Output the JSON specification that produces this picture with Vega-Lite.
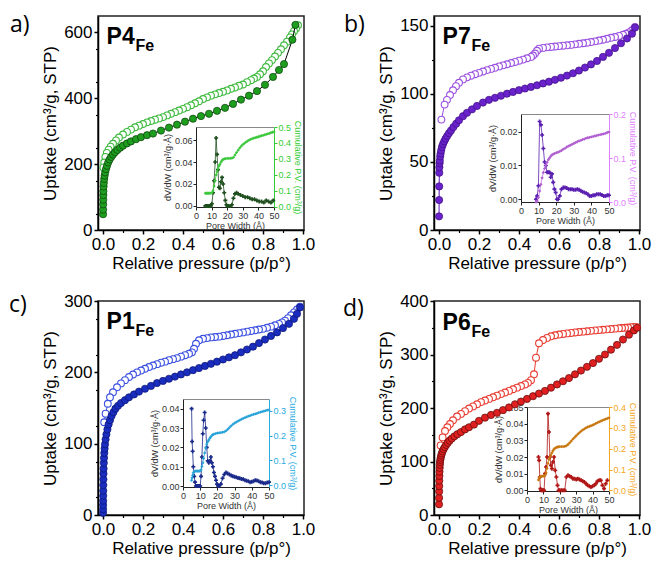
{
"$schema":"https://vega.github.io/schema/vega-lite/v6.json",
"padding":{"left":8,"top":13,"right":5,"bottom":5},
"background":"white",
"config":{"view":{"stroke":"#222","strokeWidth":1.5},"axis":{"grid":false,"domainColor":"#000","tickColor":"#000","labelColor":"#000","titleColor":"#000","labelFont":"Liberation Sans","titleFont":"Liberation Sans","titleFontWeight":"normal","labelFlush":false},"text":{"font":"Liberation Sans"}},
"datasets":{
"a_ads":[{"p":0.0003,"v":48},{"p":0.0006,"v":62},{"p":0.0009,"v":78},{"p":0.0012,"v":92},{"p":0.0016,"v":106},{"p":0.002,"v":118},{"p":0.003,"v":132},{"p":0.004,"v":143},{"p":0.006,"v":155},{"p":0.008,"v":165},{"p":0.011,"v":175},{"p":0.015,"v":185},{"p":0.02,"v":195},{"p":0.026,"v":205},{"p":0.033,"v":214},{"p":0.041,"v":222},{"p":0.05,"v":229},{"p":0.06,"v":236},{"p":0.072,"v":243},{"p":0.086,"v":250},{"p":0.1,"v":256},{"p":0.12,"v":263},{"p":0.14,"v":269},{"p":0.165,"v":276},{"p":0.19,"v":282},{"p":0.22,"v":288},{"p":0.25,"v":293},{"p":0.29,"v":302},{"p":0.33,"v":311},{"p":0.37,"v":320},{"p":0.41,"v":329},{"p":0.45,"v":338},{"p":0.49,"v":346},{"p":0.53,"v":353},{"p":0.57,"v":362},{"p":0.61,"v":371},{"p":0.65,"v":383},{"p":0.69,"v":396},{"p":0.73,"v":408},{"p":0.77,"v":422},{"p":0.81,"v":441},{"p":0.85,"v":465},{"p":0.88,"v":486},{"p":0.905,"v":504},{"p":0.947,"v":578},{"p":0.962,"v":623}],
"a_des":[{"p":0.975,"v":622},{"p":0.965,"v":612},{"p":0.955,"v":604},{"p":0.945,"v":594},{"p":0.935,"v":585},{"p":0.92,"v":572},{"p":0.905,"v":561},{"p":0.89,"v":549},{"p":0.875,"v":538},{"p":0.86,"v":527},{"p":0.845,"v":516},{"p":0.83,"v":506},{"p":0.815,"v":495},{"p":0.8,"v":482},{"p":0.785,"v":473},{"p":0.77,"v":465},{"p":0.755,"v":460},{"p":0.74,"v":455},{"p":0.72,"v":449},{"p":0.7,"v":442},{"p":0.68,"v":438},{"p":0.66,"v":433},{"p":0.64,"v":429},{"p":0.62,"v":424},{"p":0.6,"v":420},{"p":0.58,"v":416},{"p":0.56,"v":412},{"p":0.54,"v":408},{"p":0.52,"v":403},{"p":0.5,"v":398},{"p":0.48,"v":391},{"p":0.46,"v":385},{"p":0.44,"v":379},{"p":0.42,"v":373},{"p":0.4,"v":368},{"p":0.38,"v":363},{"p":0.36,"v":358},{"p":0.34,"v":353},{"p":0.32,"v":348},{"p":0.3,"v":343},{"p":0.28,"v":339},{"p":0.26,"v":335},{"p":0.24,"v":331},{"p":0.22,"v":327},{"p":0.2,"v":322},{"p":0.18,"v":317},{"p":0.16,"v":312},{"p":0.14,"v":305},{"p":0.12,"v":298},{"p":0.1,"v":290},{"p":0.08,"v":281},{"p":0.065,"v":272},{"p":0.05,"v":262},{"p":0.038,"v":253},{"p":0.028,"v":244},{"p":0.019,"v":234},{"p":0.012,"v":222},{"p":0.006,"v":205},{"p":0.002,"v":190}],
"a_psd":[{"w":6,"d":0},{"w":6.7,"d":0},{"w":7.4,"d":0},{"w":8.1,"d":0},{"w":8.8,"d":0},{"w":9.5,"d":0},{"w":10.2,"d":0.002},{"w":10.9,"d":0.012},{"w":11.6,"d":0.023},{"w":12.3,"d":0.04},{"w":12.9,"d":0.062},{"w":13.5,"d":0.047},{"w":14.1,"d":0.033},{"w":14.7,"d":0.017},{"w":15.3,"d":0.016},{"w":16,"d":0.022},{"w":16.7,"d":0.026},{"w":17.4,"d":0.02},{"w":18.1,"d":0.012},{"w":18.8,"d":0.005},{"w":19.5,"d":0.001},{"w":20.2,"d":0},{"w":21,"d":0},{"w":22,"d":0},{"w":23,"d":0.001},{"w":24,"d":0.007},{"w":25,"d":0.011},{"w":26,"d":0.012},{"w":27,"d":0.011},{"w":28.5,"d":0.01},{"w":30,"d":0.009},{"w":31.5,"d":0.008},{"w":33,"d":0.008},{"w":34.5,"d":0.007},{"w":36,"d":0.006},{"w":37.5,"d":0.006},{"w":39,"d":0.005},{"w":40.5,"d":0.004},{"w":42,"d":0.004},{"w":43.5,"d":0.003},{"w":45,"d":0.005},{"w":46.5,"d":0.004},{"w":48,"d":0.003},{"w":49.5,"d":0.005}],
"a_cum":[{"w":6,"c":0.085},{"w":6.7,"c":0.085},{"w":7.4,"c":0.085},{"w":8.1,"c":0.085},{"w":8.8,"c":0.085},{"w":9.5,"c":0.086},{"w":10.2,"c":0.088},{"w":10.9,"c":0.1},{"w":11.6,"c":0.13},{"w":12.3,"c":0.165},{"w":12.9,"c":0.2},{"w":13.5,"c":0.22},{"w":14.1,"c":0.24},{"w":14.7,"c":0.255},{"w":15.3,"c":0.265},{"w":16,"c":0.28},{"w":16.7,"c":0.29},{"w":17.4,"c":0.297},{"w":18.1,"c":0.3},{"w":19,"c":0.302},{"w":20,"c":0.303},{"w":21,"c":0.303},{"w":22,"c":0.304},{"w":23,"c":0.305},{"w":24,"c":0.31},{"w":25,"c":0.325},{"w":26,"c":0.34},{"w":27,"c":0.355},{"w":28,"c":0.368},{"w":29,"c":0.38},{"w":30,"c":0.39},{"w":31,"c":0.398},{"w":32,"c":0.405},{"w":33,"c":0.412},{"w":34,"c":0.418},{"w":35,"c":0.423},{"w":36,"c":0.427},{"w":37,"c":0.43},{"w":38,"c":0.433},{"w":39,"c":0.436},{"w":40,"c":0.439},{"w":41,"c":0.442},{"w":42,"c":0.445},{"w":43,"c":0.448},{"w":44,"c":0.451},{"w":45,"c":0.454},{"w":46,"c":0.457},{"w":47,"c":0.46},{"w":48,"c":0.464},{"w":49,"c":0.467},{"w":50,"c":0.47}],
"b_ads":[{"p":0.0003,"v":10},{"p":0.0006,"v":22},{"p":0.001,"v":32},{"p":0.0015,"v":42},{"p":0.002,"v":46},{"p":0.003,"v":49},{"p":0.004,"v":51},{"p":0.006,"v":54},{"p":0.008,"v":56},{"p":0.011,"v":58.5},{"p":0.015,"v":61},{"p":0.02,"v":63},{"p":0.026,"v":65},{"p":0.033,"v":67},{"p":0.041,"v":69},{"p":0.05,"v":71},{"p":0.06,"v":73},{"p":0.072,"v":75.5},{"p":0.086,"v":78},{"p":0.1,"v":80.5},{"p":0.12,"v":83.5},{"p":0.14,"v":86},{"p":0.165,"v":88.5},{"p":0.19,"v":91},{"p":0.22,"v":93.5},{"p":0.25,"v":95.5},{"p":0.28,"v":97},{"p":0.31,"v":98.5},{"p":0.34,"v":100},{"p":0.37,"v":101.3},{"p":0.4,"v":102.6},{"p":0.43,"v":103.8},{"p":0.46,"v":105},{"p":0.49,"v":106.2},{"p":0.52,"v":107.5},{"p":0.55,"v":108.8},{"p":0.58,"v":110.2},{"p":0.61,"v":111.7},{"p":0.64,"v":113.3},{"p":0.67,"v":115},{"p":0.7,"v":117},{"p":0.73,"v":119.2},{"p":0.76,"v":121.5},{"p":0.79,"v":124},{"p":0.82,"v":127},{"p":0.85,"v":130},{"p":0.88,"v":133.5},{"p":0.91,"v":137},{"p":0.94,"v":140.5},{"p":0.965,"v":144},{"p":0.98,"v":148.5}],
"b_des":[{"p":0.98,"v":149},{"p":0.965,"v":146.5},{"p":0.95,"v":145},{"p":0.935,"v":144},{"p":0.92,"v":143.2},{"p":0.9,"v":142.4},{"p":0.88,"v":141.6},{"p":0.86,"v":141},{"p":0.84,"v":140.3},{"p":0.82,"v":139.6},{"p":0.8,"v":139},{"p":0.78,"v":138.4},{"p":0.76,"v":137.9},{"p":0.74,"v":137.4},{"p":0.72,"v":137},{"p":0.7,"v":136.6},{"p":0.68,"v":136.2},{"p":0.66,"v":135.8},{"p":0.64,"v":135.5},{"p":0.62,"v":135.2},{"p":0.6,"v":134.9},{"p":0.58,"v":134.6},{"p":0.56,"v":134.3},{"p":0.54,"v":134},{"p":0.52,"v":133.6},{"p":0.5,"v":133},{"p":0.49,"v":131.5},{"p":0.48,"v":129.5},{"p":0.47,"v":128},{"p":0.46,"v":127},{"p":0.44,"v":126},{"p":0.42,"v":125},{"p":0.4,"v":124.2},{"p":0.38,"v":123.3},{"p":0.36,"v":122.5},{"p":0.34,"v":121.6},{"p":0.32,"v":120.8},{"p":0.3,"v":120},{"p":0.28,"v":119},{"p":0.26,"v":118.2},{"p":0.24,"v":117.3},{"p":0.22,"v":116.3},{"p":0.2,"v":115.3},{"p":0.18,"v":114.3},{"p":0.16,"v":113.2},{"p":0.14,"v":112},{"p":0.12,"v":110.5},{"p":0.1,"v":108},{"p":0.085,"v":105.5},{"p":0.07,"v":102.5},{"p":0.055,"v":99},{"p":0.04,"v":95.5},{"p":0.028,"v":92},{"p":0.012,"v":81}],
"b_psd":[{"w":8.5,"d":0},{"w":9.2,"d":0.001},{"w":9.9,"d":0.004},{"w":10.6,"d":0.023},{"w":11.3,"d":0.022},{"w":12,"d":0.019},{"w":12.7,"d":0.015},{"w":13.4,"d":0.011},{"w":14.1,"d":0.01},{"w":14.8,"d":0.008},{"w":15.5,"d":0.008},{"w":16.2,"d":0.008},{"w":16.9,"d":0.0065},{"w":17.6,"d":0.0075},{"w":18.3,"d":0.005},{"w":19,"d":0.003},{"w":19.7,"d":0.002},{"w":20.4,"d":0},{"w":21.1,"d":0},{"w":22,"d":0.001},{"w":23,"d":0.003},{"w":24,"d":0.0035},{"w":25,"d":0.0035},{"w":26,"d":0.0033},{"w":27,"d":0.003},{"w":28,"d":0.003},{"w":29,"d":0.003},{"w":30,"d":0.0028},{"w":31,"d":0.0028},{"w":32,"d":0.003},{"w":33,"d":0.0028},{"w":34,"d":0.0025},{"w":35,"d":0.0022},{"w":36,"d":0.002},{"w":37,"d":0.0018},{"w":38,"d":0.0015},{"w":39,"d":0.001},{"w":40,"d":0.001},{"w":41,"d":0.0012},{"w":42,"d":0.0012},{"w":43,"d":0.0015},{"w":44,"d":0.0015},{"w":45,"d":0.0015},{"w":46,"d":0.0013},{"w":47,"d":0.001},{"w":48,"d":0.001},{"w":49,"d":0.0012},{"w":50,"d":0.0012}],
"b_cum":[{"w":8.5,"c":0},{"w":9.2,"c":0.002},{"w":9.9,"c":0.01},{"w":10.6,"c":0.025},{"w":11.3,"c":0.04},{"w":12,"c":0.055},{"w":12.7,"c":0.067},{"w":13.4,"c":0.076},{"w":14.1,"c":0.084},{"w":14.8,"c":0.09},{"w":15.5,"c":0.096},{"w":16.2,"c":0.1},{"w":16.9,"c":0.104},{"w":17.6,"c":0.107},{"w":18.3,"c":0.109},{"w":19,"c":0.11},{"w":20,"c":0.112},{"w":21,"c":0.113},{"w":22,"c":0.115},{"w":23,"c":0.117},{"w":24,"c":0.12},{"w":25,"c":0.122},{"w":26,"c":0.125},{"w":27,"c":0.127},{"w":28,"c":0.129},{"w":29,"c":0.131},{"w":30,"c":0.133},{"w":31,"c":0.135},{"w":32,"c":0.137},{"w":33,"c":0.139},{"w":34,"c":0.14},{"w":35,"c":0.142},{"w":36,"c":0.143},{"w":37,"c":0.145},{"w":38,"c":0.146},{"w":39,"c":0.147},{"w":40,"c":0.148},{"w":41,"c":0.149},{"w":42,"c":0.15},{"w":43,"c":0.151},{"w":44,"c":0.152},{"w":45,"c":0.153},{"w":46,"c":0.154},{"w":47,"c":0.155},{"w":48,"c":0.156},{"w":49,"c":0.158},{"w":50,"c":0.159}],
"c_ads":[{"p":0.0002,"v":3},{"p":0.0004,"v":8},{"p":0.0006,"v":14},{"p":0.0008,"v":20},{"p":0.001,"v":27},{"p":0.0013,"v":34},{"p":0.0016,"v":42},{"p":0.002,"v":50},{"p":0.0025,"v":58},{"p":0.003,"v":65},{"p":0.004,"v":73},{"p":0.005,"v":80},{"p":0.0065,"v":87},{"p":0.008,"v":93},{"p":0.01,"v":99},{"p":0.013,"v":106},{"p":0.017,"v":113},{"p":0.022,"v":120},{"p":0.028,"v":127},{"p":0.035,"v":133},{"p":0.043,"v":139},{"p":0.052,"v":144},{"p":0.062,"v":149},{"p":0.075,"v":153},{"p":0.09,"v":157},{"p":0.11,"v":161},{"p":0.13,"v":165},{"p":0.155,"v":169},{"p":0.18,"v":173},{"p":0.21,"v":177},{"p":0.24,"v":181},{"p":0.27,"v":185},{"p":0.3,"v":188},{"p":0.33,"v":191},{"p":0.36,"v":194},{"p":0.39,"v":197},{"p":0.42,"v":200},{"p":0.45,"v":203},{"p":0.48,"v":206},{"p":0.51,"v":209},{"p":0.54,"v":212},{"p":0.57,"v":215},{"p":0.6,"v":218},{"p":0.63,"v":221},{"p":0.66,"v":224},{"p":0.69,"v":228},{"p":0.72,"v":232},{"p":0.75,"v":236},{"p":0.78,"v":241},{"p":0.81,"v":246},{"p":0.84,"v":251},{"p":0.87,"v":256},{"p":0.9,"v":262},{"p":0.93,"v":268},{"p":0.955,"v":275},{"p":0.97,"v":282},{"p":0.985,"v":291}],
"c_des":[{"p":0.985,"v":292},{"p":0.97,"v":288},{"p":0.955,"v":284},{"p":0.94,"v":280},{"p":0.925,"v":276},{"p":0.91,"v":272.5},{"p":0.895,"v":270},{"p":0.88,"v":268},{"p":0.86,"v":266},{"p":0.84,"v":264},{"p":0.82,"v":262.5},{"p":0.8,"v":261},{"p":0.78,"v":260},{"p":0.76,"v":259},{"p":0.74,"v":258},{"p":0.72,"v":257},{"p":0.7,"v":256},{"p":0.68,"v":255},{"p":0.66,"v":254},{"p":0.64,"v":253},{"p":0.62,"v":252},{"p":0.6,"v":251},{"p":0.58,"v":250},{"p":0.56,"v":249.5},{"p":0.54,"v":249},{"p":0.52,"v":248},{"p":0.5,"v":247},{"p":0.48,"v":245},{"p":0.465,"v":240},{"p":0.455,"v":233},{"p":0.445,"v":228},{"p":0.43,"v":226},{"p":0.41,"v":224},{"p":0.39,"v":222},{"p":0.37,"v":220},{"p":0.35,"v":218.5},{"p":0.33,"v":217},{"p":0.31,"v":215},{"p":0.29,"v":213.5},{"p":0.27,"v":211.5},{"p":0.25,"v":209.5},{"p":0.23,"v":207.5},{"p":0.21,"v":205},{"p":0.19,"v":202.5},{"p":0.17,"v":200},{"p":0.15,"v":197},{"p":0.13,"v":193.5},{"p":0.11,"v":189},{"p":0.09,"v":184.5},{"p":0.07,"v":179},{"p":0.05,"v":172},{"p":0.035,"v":165},{"p":0.024,"v":156},{"p":0.013,"v":142},{"p":0.006,"v":130}],
"c_psd":[{"w":5,"d":0.04},{"w":5.3,"d":0.023},{"w":5.6,"d":0.018},{"w":6,"d":0.01},{"w":6.5,"d":0.005},{"w":7,"d":0.002},{"w":7.5,"d":0},{"w":8,"d":0},{"w":8.5,"d":0},{"w":9,"d":0},{"w":9.5,"d":0},{"w":10,"d":0},{"w":10.5,"d":0.005},{"w":11,"d":0.015},{"w":11.5,"d":0.027},{"w":12,"d":0.034},{"w":12.6,"d":0.038},{"w":13.2,"d":0.03},{"w":13.8,"d":0.02},{"w":14.4,"d":0.013},{"w":15,"d":0.012},{"w":15.6,"d":0.013},{"w":16.2,"d":0.015},{"w":16.8,"d":0.012},{"w":17.4,"d":0.01},{"w":18,"d":0.007},{"w":18.6,"d":0.005},{"w":19.2,"d":0.003},{"w":19.8,"d":0.001},{"w":20.4,"d":0},{"w":21,"d":0},{"w":22,"d":0.001},{"w":23,"d":0.004},{"w":24,"d":0.006},{"w":25,"d":0.007},{"w":26,"d":0.0065},{"w":27,"d":0.006},{"w":28,"d":0.0055},{"w":29,"d":0.005},{"w":30,"d":0.0048},{"w":31,"d":0.0045},{"w":32,"d":0.0042},{"w":33,"d":0.004},{"w":34,"d":0.0037},{"w":35,"d":0.0035},{"w":36,"d":0.003},{"w":37,"d":0.0027},{"w":38,"d":0.0025},{"w":39,"d":0.002},{"w":40,"d":0.0022},{"w":41,"d":0.0025},{"w":42,"d":0.003},{"w":43,"d":0.0028},{"w":44,"d":0.0025},{"w":45,"d":0.002},{"w":46,"d":0.0018},{"w":47,"d":0.0015},{"w":48,"d":0.0015},{"w":49,"d":0.0018},{"w":50,"d":0.002}],
"c_cum":[{"w":5,"c":0.02},{"w":5.3,"c":0.03},{"w":5.6,"c":0.04},{"w":6,"c":0.05},{"w":6.5,"c":0.055},{"w":7,"c":0.057},{"w":7.5,"c":0.057},{"w":8,"c":0.057},{"w":8.5,"c":0.057},{"w":9,"c":0.057},{"w":9.5,"c":0.057},{"w":10,"c":0.058},{"w":10.5,"c":0.062},{"w":11,"c":0.075},{"w":11.5,"c":0.09},{"w":12,"c":0.108},{"w":12.6,"c":0.13},{"w":13.2,"c":0.15},{"w":13.8,"c":0.165},{"w":14.4,"c":0.175},{"w":15,"c":0.182},{"w":15.6,"c":0.189},{"w":16.2,"c":0.195},{"w":16.8,"c":0.2},{"w":17.4,"c":0.204},{"w":18,"c":0.206},{"w":19,"c":0.208},{"w":20,"c":0.21},{"w":21,"c":0.211},{"w":22,"c":0.212},{"w":23,"c":0.213},{"w":24,"c":0.215},{"w":25,"c":0.219},{"w":26,"c":0.225},{"w":27,"c":0.232},{"w":28,"c":0.239},{"w":29,"c":0.245},{"w":30,"c":0.25},{"w":31,"c":0.254},{"w":32,"c":0.258},{"w":33,"c":0.262},{"w":34,"c":0.266},{"w":35,"c":0.269},{"w":36,"c":0.272},{"w":37,"c":0.275},{"w":38,"c":0.278},{"w":39,"c":0.28},{"w":40,"c":0.283},{"w":41,"c":0.285},{"w":42,"c":0.287},{"w":43,"c":0.289},{"w":44,"c":0.292},{"w":45,"c":0.294},{"w":46,"c":0.296},{"w":47,"c":0.298},{"w":48,"c":0.3},{"w":49,"c":0.302},{"w":50,"c":0.303}],
"d_ads":[{"p":0.0002,"v":20},{"p":0.0005,"v":32},{"p":0.0008,"v":44},{"p":0.0011,"v":54},{"p":0.0015,"v":64},{"p":0.002,"v":73},{"p":0.0026,"v":81},{"p":0.0033,"v":88},{"p":0.0042,"v":94},{"p":0.0053,"v":99},{"p":0.0067,"v":103},{"p":0.0085,"v":107},{"p":0.011,"v":111},{"p":0.014,"v":115},{"p":0.018,"v":119},{"p":0.023,"v":123},{"p":0.029,"v":127},{"p":0.036,"v":131},{"p":0.044,"v":135},{"p":0.053,"v":139},{"p":0.064,"v":143},{"p":0.077,"v":147},{"p":0.092,"v":151},{"p":0.11,"v":155},{"p":0.13,"v":160},{"p":0.15,"v":164},{"p":0.175,"v":169},{"p":0.2,"v":176},{"p":0.23,"v":182},{"p":0.26,"v":187},{"p":0.29,"v":191},{"p":0.32,"v":196},{"p":0.35,"v":201},{"p":0.38,"v":207},{"p":0.41,"v":212},{"p":0.44,"v":217},{"p":0.47,"v":222},{"p":0.5,"v":227},{"p":0.53,"v":232},{"p":0.56,"v":238},{"p":0.59,"v":244},{"p":0.62,"v":250},{"p":0.65,"v":256},{"p":0.68,"v":263},{"p":0.71,"v":270},{"p":0.74,"v":277},{"p":0.77,"v":284},{"p":0.8,"v":292},{"p":0.83,"v":300},{"p":0.86,"v":309},{"p":0.89,"v":318},{"p":0.92,"v":328},{"p":0.95,"v":337},{"p":0.975,"v":345},{"p":0.99,"v":350}],
"d_des":[{"p":0.99,"v":351},{"p":0.975,"v":351.5},{"p":0.96,"v":351},{"p":0.945,"v":350.5},{"p":0.93,"v":350},{"p":0.915,"v":349.5},{"p":0.9,"v":349},{"p":0.88,"v":348.3},{"p":0.86,"v":347.6},{"p":0.84,"v":347},{"p":0.82,"v":346.3},{"p":0.8,"v":345.6},{"p":0.78,"v":345},{"p":0.76,"v":344.2},{"p":0.74,"v":343.5},{"p":0.72,"v":342.7},{"p":0.7,"v":342},{"p":0.68,"v":341.2},{"p":0.66,"v":340.3},{"p":0.64,"v":339.4},{"p":0.62,"v":338.4},{"p":0.6,"v":337.3},{"p":0.58,"v":336},{"p":0.56,"v":334},{"p":0.54,"v":331},{"p":0.52,"v":327},{"p":0.5,"v":321},{"p":0.485,"v":294},{"p":0.475,"v":263},{"p":0.46,"v":252},{"p":0.445,"v":247},{"p":0.43,"v":244},{"p":0.41,"v":241},{"p":0.39,"v":238},{"p":0.37,"v":235},{"p":0.35,"v":232},{"p":0.33,"v":229},{"p":0.31,"v":226},{"p":0.29,"v":223},{"p":0.27,"v":220},{"p":0.25,"v":217},{"p":0.23,"v":214},{"p":0.21,"v":211},{"p":0.19,"v":207},{"p":0.17,"v":203},{"p":0.15,"v":199},{"p":0.13,"v":194},{"p":0.11,"v":189},{"p":0.09,"v":184},{"p":0.07,"v":177},{"p":0.055,"v":170},{"p":0.042,"v":164},{"p":0.03,"v":157},{"p":0.018,"v":145},{"p":0.008,"v":130}],
"d_psd":[{"w":7,"d":0.02},{"w":7.4,"d":0.018},{"w":7.8,"d":0.008},{"w":8.2,"d":0.001},{"w":8.6,"d":0},{"w":9.2,"d":0},{"w":9.8,"d":0},{"w":10.4,"d":0},{"w":11,"d":0.01},{"w":11.6,"d":0.014},{"w":12.2,"d":0.02},{"w":12.8,"d":0.046},{"w":13.4,"d":0.035},{"w":14,"d":0.02},{"w":14.6,"d":0.015},{"w":15.2,"d":0.013},{"w":15.8,"d":0.017},{"w":16.5,"d":0.02},{"w":17.2,"d":0.012},{"w":17.9,"d":0.008},{"w":18.6,"d":0.003},{"w":19.3,"d":0},{"w":20,"d":0},{"w":21,"d":0},{"w":22,"d":0},{"w":23,"d":0},{"w":24,"d":0.008},{"w":25,"d":0.009},{"w":26,"d":0.0085},{"w":27,"d":0.008},{"w":28,"d":0.007},{"w":29,"d":0.007},{"w":30,"d":0.0065},{"w":31,"d":0.007},{"w":32,"d":0.0065},{"w":33,"d":0.006},{"w":34,"d":0.0055},{"w":35,"d":0.005},{"w":36,"d":0.004},{"w":37,"d":0.003},{"w":38,"d":0.0025},{"w":39,"d":0.002},{"w":40,"d":0.0025},{"w":41,"d":0.003},{"w":42,"d":0.004},{"w":43,"d":0.0055},{"w":44,"d":0.006},{"w":45,"d":0.006},{"w":46,"d":0.003},{"w":47,"d":0.001},{"w":48,"d":0.004},{"w":49,"d":0.006}],
"d_cum":[{"w":7,"c":0.05},{"w":7.4,"c":0.058},{"w":7.8,"c":0.064},{"w":8.2,"c":0.066},{"w":8.6,"c":0.067},{"w":9.2,"c":0.068},{"w":9.8,"c":0.068},{"w":10.4,"c":0.069},{"w":11,"c":0.073},{"w":11.6,"c":0.085},{"w":12.2,"c":0.105},{"w":12.8,"c":0.13},{"w":13.4,"c":0.148},{"w":14,"c":0.16},{"w":14.6,"c":0.17},{"w":15.2,"c":0.18},{"w":15.8,"c":0.19},{"w":16.5,"c":0.198},{"w":17.2,"c":0.203},{"w":17.9,"c":0.206},{"w":18.6,"c":0.208},{"w":19.3,"c":0.209},{"w":20,"c":0.21},{"w":21,"c":0.21},{"w":22,"c":0.21},{"w":23,"c":0.211},{"w":24,"c":0.214},{"w":25,"c":0.22},{"w":26,"c":0.228},{"w":27,"c":0.237},{"w":28,"c":0.246},{"w":29,"c":0.254},{"w":30,"c":0.262},{"w":31,"c":0.27},{"w":32,"c":0.277},{"w":33,"c":0.284},{"w":34,"c":0.29},{"w":35,"c":0.295},{"w":36,"c":0.3},{"w":37,"c":0.304},{"w":38,"c":0.307},{"w":39,"c":0.31},{"w":40,"c":0.313},{"w":41,"c":0.317},{"w":42,"c":0.321},{"w":43,"c":0.325},{"w":44,"c":0.329},{"w":45,"c":0.332},{"w":46,"c":0.336},{"w":47,"c":0.339},{"w":48,"c":0.342},{"w":49,"c":0.345},{"w":50,"c":0.348}]
},
"columns":2,
"bounds":"flush",
"spacing":{"column":130,"row":71},
"concat":[
{"width":206,"height":214,"resolve":{"scale":{"x":"independent","y":"independent"}},
 "layer":[
  {"layer":[
   {"data":{"name":"a_des"},"mark":{"type":"line","color":"#3cb93c","strokeWidth":1},"encoding":{"x":{"field":"p","type":"quantitative","scale":{"domain":[-0.025,1.005],"nice":false,"zero":false},"axis":{"title":"Relative pressure (p/p°)","values":[0,0.2,0.4,0.6,0.8,1],"format":".1f","labelFontSize":17,"titleFontSize":17,"tickSize":4,"labelPadding":2,"titlePadding":3,"domainWidth":1.5,"tickWidth":1.5}},"y":{"field":"v","type":"quantitative","scale":{"domain":[0,650],"nice":false,"zero":false},"axis":{"title":"Uptake (cm³/g, STP)","values":[0,100,200,300,400,500,600],"labelFontSize":17,"titleFontSize":17,"tickSize":4,"labelPadding":2,"titlePadding":4,"domainWidth":1.5,"tickWidth":1.5}}}},
   {"data":{"name":"a_des"},"mark":{"type":"point","shape":"circle","filled":true,"fill":"#ffffff","stroke":"#3cb93c","strokeWidth":1.1,"size":46,"opacity":1},"encoding":{"x":{"field":"p","type":"quantitative","scale":{"domain":[-0.025,1.005],"nice":false,"zero":false}},"y":{"field":"v","type":"quantitative","scale":{"domain":[0,650],"nice":false,"zero":false}}}},
   {"data":{"name":"a_ads"},"mark":{"type":"line","color":"#000000","strokeWidth":1},"encoding":{"x":{"field":"p","type":"quantitative","scale":{"domain":[-0.025,1.005],"nice":false,"zero":false}},"y":{"field":"v","type":"quantitative","scale":{"domain":[0,650],"nice":false,"zero":false}}}},
   {"data":{"name":"a_ads"},"mark":{"type":"point","shape":"circle","filled":true,"fill":"#1e9e1e","stroke":"#0b3d0b","strokeWidth":0.7,"size":52,"opacity":1},"encoding":{"x":{"field":"p","type":"quantitative","scale":{"domain":[-0.025,1.005],"nice":false,"zero":false}},"y":{"field":"v","type":"quantitative","scale":{"domain":[0,650],"nice":false,"zero":false}}}},
   {"data":{"values":[{}]},"mark":{"type":"text","text":"P4","fontWeight":"bold","fontSize":23,"align":"left","baseline":"alphabetic","color":"#000"},"encoding":{"x":{"datum":0.018,"type":"quantitative","scale":{"domain":[-0.025,1.005],"nice":false,"zero":false}},"y":{"datum":565,"type":"quantitative","scale":{"domain":[0,650],"nice":false,"zero":false}}}},
   {"data":{"values":[{}]},"mark":{"type":"text","text":"Fe","fontWeight":"bold","fontSize":16,"align":"left","baseline":"alphabetic","dx":29,"dy":7,"color":"#000"},"encoding":{"x":{"datum":0.018,"type":"quantitative","scale":{"domain":[-0.025,1.005],"nice":false,"zero":false}},"y":{"datum":565,"type":"quantitative","scale":{"domain":[0,650],"nice":false,"zero":false}}}},
   {"data":{"values":[{}]},"mark":{"type":"text","text":"a)","font":"Open Sans","fontSize":23,"align":"left","baseline":"alphabetic","color":"#000"},"encoding":{"x":{"datum":-0.465,"type":"quantitative","scale":{"domain":[-0.025,1.005],"nice":false,"zero":false}},"y":{"datum":601,"type":"quantitative","scale":{"domain":[0,650],"nice":false,"zero":false}}}}
  ]},
  {"data":{"values":[{}]},"mark":{"type":"point","opacity":0},"encoding":{"x":{"datum":0.5,"type":"quantitative","scale":{"domain":[-0.025,1.005],"nice":false,"zero":false},"axis":{"orient":"bottom","values":[0.1,0.3,0.5,0.7,0.9],"labels":false,"domain":false,"title":null,"tickSize":2.5,"tickWidth":1.2}},"y":{"datum":300,"type":"quantitative","scale":{"domain":[0,650],"nice":false,"zero":false},"axis":{"orient":"left","values":[50,150,250,350,450,550],"labels":false,"domain":false,"title":null,"tickSize":2.5,"tickWidth":1.2}}}},
  {"layer":[
   {"data":{"name":"a_psd"},"mark":{"type":"line","color":"#1f4f1f","strokeWidth":0.8},"encoding":{"x":{"field":"w","type":"quantitative","scale":{"domain":[0,50],"range":[98,176],"nice":false,"zero":false},"axis":{"orient":"bottom","offset":-23,"title":"Pore Width (Å)","values":[0,10,20,30,40,50],"labelFontSize":9,"titleFontSize":9,"tickSize":3,"labelPadding":1,"titlePadding":1,"domainWidth":1,"tickWidth":1,"labelColor":"#333","titleColor":"#333","domainColor":"#222","tickColor":"#222"}},"y":{"field":"d","type":"quantitative","scale":{"domain":[-0.001,0.072],"range":[191,111],"nice":false,"zero":false},"axis":{"orient":"left","offset":-98,"title":"dV/dW (cm³/g·Å)","values":[0,0.02,0.04,0.06],"format":".2f","labelFontSize":9,"titleFontSize":9,"tickSize":3,"labelPadding":1,"titlePadding":2,"domainWidth":1,"tickWidth":1,"labelColor":"#333","titleColor":"#333","domainColor":"#222","tickColor":"#222"}}}},
   {"data":{"name":"a_psd"},"mark":{"type":"point","shape":"cross","filled":true,"color":"#1f4f1f","size":16,"opacity":1},"encoding":{"x":{"field":"w","type":"quantitative","scale":{"domain":[0,50],"range":[98,176],"nice":false,"zero":false}},"y":{"field":"d","type":"quantitative","scale":{"domain":[-0.001,0.072],"range":[191,111],"nice":false,"zero":false}}}}
  ]},
  {"layer":[
   {"data":{"name":"a_cum"},"mark":{"type":"line","color":"#3ec83e","strokeWidth":0.8},"encoding":{"x":{"field":"w","type":"quantitative","scale":{"domain":[0,50],"range":[98,176],"nice":false,"zero":false},"axis":{"orient":"top","offset":-111,"labels":false,"ticks":false,"title":null,"domainColor":"#888","domainWidth":1}},"y":{"field":"c","type":"quantitative","scale":{"domain":[-0.001,0.5],"range":[191,111],"nice":false,"zero":false},"axis":{"orient":"right","offset":-30,"title":"Cumulative P.V. (cm³/g)","values":[0,0.1,0.2,0.3,0.4,0.5],"format":".1f","labelFontSize":9,"titleFontSize":9,"tickSize":3,"labelPadding":1,"titlePadding":2,"domainWidth":1,"tickWidth":1,"labelColor":"#33cc33","titleColor":"#33cc33","domainColor":"#33cc33","tickColor":"#33cc33"}}}},
   {"data":{"name":"a_cum"},"mark":{"type":"point","shape":"diamond","filled":true,"color":"#3ec83e","size":11,"opacity":1},"encoding":{"x":{"field":"w","type":"quantitative","scale":{"domain":[0,50],"range":[98,176],"nice":false,"zero":false}},"y":{"field":"c","type":"quantitative","scale":{"domain":[-0.001,0.5],"range":[191,111],"nice":false,"zero":false}}}}
  ]}
 ]},
{"width":206,"height":214,"resolve":{"scale":{"x":"independent","y":"independent"}},
 "layer":[
  {"layer":[
   {"data":{"name":"b_des"},"mark":{"type":"line","color":"#9a50e0","strokeWidth":1},"encoding":{"x":{"field":"p","type":"quantitative","scale":{"domain":[-0.025,1.005],"nice":false,"zero":false},"axis":{"title":"Relative pressure (p/p°)","values":[0,0.2,0.4,0.6,0.8,1],"format":".1f","labelFontSize":17,"titleFontSize":17,"tickSize":4,"labelPadding":2,"titlePadding":3,"domainWidth":1.5,"tickWidth":1.5}},"y":{"field":"v","type":"quantitative","scale":{"domain":[0,157],"nice":false,"zero":false},"axis":{"title":"Uptake (cm³/g, STP)","values":[0,50,100,150],"labelFontSize":17,"titleFontSize":17,"tickSize":4,"labelPadding":2,"titlePadding":4,"domainWidth":1.5,"tickWidth":1.5}}}},
   {"data":{"name":"b_des"},"mark":{"type":"point","shape":"circle","filled":true,"fill":"#ffffff","stroke":"#9a50e0","strokeWidth":1.1,"size":46,"opacity":1},"encoding":{"x":{"field":"p","type":"quantitative","scale":{"domain":[-0.025,1.005],"nice":false,"zero":false}},"y":{"field":"v","type":"quantitative","scale":{"domain":[0,157],"nice":false,"zero":false}}}},
   {"data":{"name":"b_ads"},"mark":{"type":"line","color":"#5a18b8","strokeWidth":1},"encoding":{"x":{"field":"p","type":"quantitative","scale":{"domain":[-0.025,1.005],"nice":false,"zero":false}},"y":{"field":"v","type":"quantitative","scale":{"domain":[0,157],"nice":false,"zero":false}}}},
   {"data":{"name":"b_ads"},"mark":{"type":"point","shape":"circle","filled":true,"fill":"#6a22cc","stroke":"#3d0f80","strokeWidth":0.7,"size":52,"opacity":1},"encoding":{"x":{"field":"p","type":"quantitative","scale":{"domain":[-0.025,1.005],"nice":false,"zero":false}},"y":{"field":"v","type":"quantitative","scale":{"domain":[0,157],"nice":false,"zero":false}}}},
   {"data":{"values":[{}]},"mark":{"type":"text","text":"P7","fontWeight":"bold","fontSize":23,"align":"left","baseline":"alphabetic","color":"#000"},"encoding":{"x":{"datum":0.018,"type":"quantitative","scale":{"domain":[-0.025,1.005],"nice":false,"zero":false}},"y":{"datum":136.4,"type":"quantitative","scale":{"domain":[0,157],"nice":false,"zero":false}}}},
   {"data":{"values":[{}]},"mark":{"type":"text","text":"Fe","fontWeight":"bold","fontSize":16,"align":"left","baseline":"alphabetic","dx":29,"dy":7,"color":"#000"},"encoding":{"x":{"datum":0.018,"type":"quantitative","scale":{"domain":[-0.025,1.005],"nice":false,"zero":false}},"y":{"datum":136.4,"type":"quantitative","scale":{"domain":[0,157],"nice":false,"zero":false}}}},
   {"data":{"values":[{}]},"mark":{"type":"text","text":"b)","font":"Open Sans","fontSize":23,"align":"left","baseline":"alphabetic","color":"#000"},"encoding":{"x":{"datum":-0.475,"type":"quantitative","scale":{"domain":[-0.025,1.005],"nice":false,"zero":false}},"y":{"datum":145.3,"type":"quantitative","scale":{"domain":[0,157],"nice":false,"zero":false}}}}
  ]},
  {"data":{"values":[{}]},"mark":{"type":"point","opacity":0},"encoding":{"x":{"datum":0.5,"type":"quantitative","scale":{"domain":[-0.025,1.005],"nice":false,"zero":false},"axis":{"orient":"bottom","values":[0.1,0.3,0.5,0.7,0.9],"labels":false,"domain":false,"title":null,"tickSize":2.5,"tickWidth":1.2}},"y":{"datum":80,"type":"quantitative","scale":{"domain":[0,157],"nice":false,"zero":false},"axis":{"orient":"left","values":[25,75,125],"labels":false,"domain":false,"title":null,"tickSize":2.5,"tickWidth":1.2}}}},
  {"layer":[
   {"data":{"name":"b_psd"},"mark":{"type":"line","color":"#5a1fb0","strokeWidth":0.8},"encoding":{"x":{"field":"w","type":"quantitative","scale":{"domain":[0,50],"range":[87,175],"nice":false,"zero":false},"axis":{"orient":"bottom","offset":-28,"title":"Pore Width (Å)","values":[0,10,20,30,40,50],"labelFontSize":9,"titleFontSize":9,"tickSize":3,"labelPadding":1,"titlePadding":1,"domainWidth":1,"tickWidth":1,"labelColor":"#333","titleColor":"#333","domainColor":"#222","tickColor":"#222"}},"y":{"field":"d","type":"quantitative","scale":{"domain":[-0.0008,0.0252],"range":[186,98],"nice":false,"zero":false},"axis":{"orient":"left","offset":-87,"title":"dV/dW (cm³/g·Å)","values":[0,0.01,0.02],"format":".2f","labelFontSize":9,"titleFontSize":9,"tickSize":3,"labelPadding":1,"titlePadding":2,"domainWidth":1,"tickWidth":1,"labelColor":"#333","titleColor":"#333","domainColor":"#222","tickColor":"#222"}}}},
   {"data":{"name":"b_psd"},"mark":{"type":"point","shape":"cross","filled":true,"color":"#5a1fb0","size":16,"opacity":1},"encoding":{"x":{"field":"w","type":"quantitative","scale":{"domain":[0,50],"range":[87,175],"nice":false,"zero":false}},"y":{"field":"d","type":"quantitative","scale":{"domain":[-0.0008,0.0252],"range":[186,98],"nice":false,"zero":false}}}}
  ]},
  {"layer":[
   {"data":{"name":"b_cum"},"mark":{"type":"line","color":"#c070e0","strokeWidth":0.8},"encoding":{"x":{"field":"w","type":"quantitative","scale":{"domain":[0,50],"range":[87,175],"nice":false,"zero":false},"axis":{"orient":"top","offset":-98,"labels":false,"ticks":false,"title":null,"domainColor":"#888","domainWidth":1}},"y":{"field":"c","type":"quantitative","scale":{"domain":[0,0.2],"range":[186,98],"nice":false,"zero":false},"axis":{"orient":"right","offset":-31,"title":"Cumulative P.V. (cm³/g)","values":[0,0.1,0.2],"format":".1f","labelFontSize":9,"titleFontSize":9,"tickSize":3,"labelPadding":1,"titlePadding":2,"domainWidth":1,"tickWidth":1,"labelColor":"#e080ff","titleColor":"#e080ff","domainColor":"#e080ff","tickColor":"#e080ff"}}}},
   {"data":{"name":"b_cum"},"mark":{"type":"point","shape":"diamond","filled":true,"color":"#b060d0","size":11,"opacity":1},"encoding":{"x":{"field":"w","type":"quantitative","scale":{"domain":[0,50],"range":[87,175],"nice":false,"zero":false}},"y":{"field":"c","type":"quantitative","scale":{"domain":[0,0.2],"range":[186,98],"nice":false,"zero":false}}}}
  ]}
 ]},
{"width":206,"height":214,"resolve":{"scale":{"x":"independent","y":"independent"}},
 "layer":[
  {"layer":[
   {"data":{"name":"c_des"},"mark":{"type":"line","color":"#3a4fe0","strokeWidth":1},"encoding":{"x":{"field":"p","type":"quantitative","scale":{"domain":[-0.025,1.005],"nice":false,"zero":false},"axis":{"title":"Relative pressure (p/p°)","values":[0,0.2,0.4,0.6,0.8,1],"format":".1f","labelFontSize":17,"titleFontSize":17,"tickSize":4,"labelPadding":2,"titlePadding":3,"domainWidth":1.5,"tickWidth":1.5}},"y":{"field":"v","type":"quantitative","scale":{"domain":[0,300],"nice":false,"zero":false},"axis":{"title":"Uptake (cm³/g, STP)","values":[0,50,100,150,200,250,300],"labelFontSize":17,"titleFontSize":17,"tickSize":4,"labelPadding":2,"titlePadding":4,"domainWidth":1.5,"tickWidth":1.5}}}},
   {"data":{"name":"c_des"},"mark":{"type":"point","shape":"circle","filled":true,"fill":"#ffffff","stroke":"#3a4fe0","strokeWidth":1.1,"size":46,"opacity":1},"encoding":{"x":{"field":"p","type":"quantitative","scale":{"domain":[-0.025,1.005],"nice":false,"zero":false}},"y":{"field":"v","type":"quantitative","scale":{"domain":[0,300],"nice":false,"zero":false}}}},
   {"data":{"name":"c_ads"},"mark":{"type":"line","color":"#14208f","strokeWidth":1},"encoding":{"x":{"field":"p","type":"quantitative","scale":{"domain":[-0.025,1.005],"nice":false,"zero":false}},"y":{"field":"v","type":"quantitative","scale":{"domain":[0,300],"nice":false,"zero":false}}}},
   {"data":{"name":"c_ads"},"mark":{"type":"point","shape":"circle","filled":true,"fill":"#1a2dbf","stroke":"#0a1470","strokeWidth":0.7,"size":52,"opacity":1},"encoding":{"x":{"field":"p","type":"quantitative","scale":{"domain":[-0.025,1.005],"nice":false,"zero":false}},"y":{"field":"v","type":"quantitative","scale":{"domain":[0,300],"nice":false,"zero":false}}}},
   {"data":{"values":[{}]},"mark":{"type":"text","text":"P1","fontWeight":"bold","fontSize":23,"align":"left","baseline":"alphabetic","color":"#000"},"encoding":{"x":{"datum":0.018,"type":"quantitative","scale":{"domain":[-0.025,1.005],"nice":false,"zero":false}},"y":{"datum":260.7,"type":"quantitative","scale":{"domain":[0,300],"nice":false,"zero":false}}}},
   {"data":{"values":[{}]},"mark":{"type":"text","text":"Fe","fontWeight":"bold","fontSize":16,"align":"left","baseline":"alphabetic","dx":29,"dy":7,"color":"#000"},"encoding":{"x":{"datum":0.018,"type":"quantitative","scale":{"domain":[-0.025,1.005],"nice":false,"zero":false}},"y":{"datum":260.7,"type":"quantitative","scale":{"domain":[0,300],"nice":false,"zero":false}}}},
   {"data":{"values":[{}]},"mark":{"type":"text","text":"c)","font":"Open Sans","fontSize":23,"align":"left","baseline":"alphabetic","color":"#000"},"encoding":{"x":{"datum":-0.47,"type":"quantitative","scale":{"domain":[-0.025,1.005],"nice":false,"zero":false}},"y":{"datum":284.6,"type":"quantitative","scale":{"domain":[0,300],"nice":false,"zero":false}}}}
  ]},
  {"data":{"values":[{}]},"mark":{"type":"point","opacity":0},"encoding":{"x":{"datum":0.5,"type":"quantitative","scale":{"domain":[-0.025,1.005],"nice":false,"zero":false},"axis":{"orient":"bottom","values":[0.1,0.3,0.5,0.7,0.9],"labels":false,"domain":false,"title":null,"tickSize":2.5,"tickWidth":1.2}},"y":{"datum":150,"type":"quantitative","scale":{"domain":[0,300],"nice":false,"zero":false},"axis":{"orient":"left","values":[25,75,125,175,225,275],"labels":false,"domain":false,"title":null,"tickSize":2.5,"tickWidth":1.2}}}},
  {"layer":[
   {"data":{"name":"c_psd"},"mark":{"type":"line","color":"#1a2a8a","strokeWidth":0.8},"encoding":{"x":{"field":"w","type":"quantitative","scale":{"domain":[0,50],"range":[85,171],"nice":false,"zero":false},"axis":{"orient":"bottom","offset":-28,"title":"Pore Width (Å)","values":[0,10,20,30,40,50],"labelFontSize":9,"titleFontSize":9,"tickSize":3,"labelPadding":1,"titlePadding":1,"domainWidth":1,"tickWidth":1,"labelColor":"#333","titleColor":"#333","domainColor":"#222","tickColor":"#222"}},"y":{"field":"d","type":"quantitative","scale":{"domain":[-0.0005,0.045],"range":[186,98],"nice":false,"zero":false},"axis":{"orient":"left","offset":-85,"title":"dV/dW (cm³/g·Å)","values":[0,0.01,0.02,0.03,0.04],"format":".2f","labelFontSize":9,"titleFontSize":9,"tickSize":3,"labelPadding":1,"titlePadding":2,"domainWidth":1,"tickWidth":1,"labelColor":"#333","titleColor":"#333","domainColor":"#222","tickColor":"#222"}}}},
   {"data":{"name":"c_psd"},"mark":{"type":"point","shape":"cross","filled":true,"color":"#1a2a8a","size":16,"opacity":1},"encoding":{"x":{"field":"w","type":"quantitative","scale":{"domain":[0,50],"range":[85,171],"nice":false,"zero":false}},"y":{"field":"d","type":"quantitative","scale":{"domain":[-0.0005,0.045],"range":[186,98],"nice":false,"zero":false}}}}
  ]},
  {"layer":[
   {"data":{"name":"c_cum"},"mark":{"type":"line","color":"#2aa3d8","strokeWidth":0.8},"encoding":{"x":{"field":"w","type":"quantitative","scale":{"domain":[0,50],"range":[85,171],"nice":false,"zero":false},"axis":{"orient":"top","offset":-98,"labels":false,"ticks":false,"title":null,"domainColor":"#888","domainWidth":1}},"y":{"field":"c","type":"quantitative","scale":{"domain":[-0.007,0.347],"range":[186,98],"nice":false,"zero":false},"axis":{"orient":"right","offset":-35,"title":"Cumulative P.V. (cm³/g)","values":[0,0.1,0.2,0.3],"format":".1f","labelFontSize":9,"titleFontSize":9,"tickSize":3,"labelPadding":1,"titlePadding":2,"domainWidth":1,"tickWidth":1,"labelColor":"#29abe2","titleColor":"#29abe2","domainColor":"#29abe2","tickColor":"#29abe2"}}}},
   {"data":{"name":"c_cum"},"mark":{"type":"point","shape":"diamond","filled":true,"color":"#2aa3d8","size":11,"opacity":1},"encoding":{"x":{"field":"w","type":"quantitative","scale":{"domain":[0,50],"range":[85,171],"nice":false,"zero":false}},"y":{"field":"c","type":"quantitative","scale":{"domain":[-0.007,0.347],"range":[186,98],"nice":false,"zero":false}}}}
  ]}
 ]},
{"width":206,"height":214,"resolve":{"scale":{"x":"independent","y":"independent"}},
 "layer":[
  {"layer":[
   {"data":{"name":"d_des"},"mark":{"type":"line","color":"#e83a30","strokeWidth":1},"encoding":{"x":{"field":"p","type":"quantitative","scale":{"domain":[-0.025,1.005],"nice":false,"zero":false},"axis":{"title":"Relative pressure (p/p°)","values":[0,0.2,0.4,0.6,0.8,1],"format":".1f","labelFontSize":17,"titleFontSize":17,"tickSize":4,"labelPadding":2,"titlePadding":3,"domainWidth":1.5,"tickWidth":1.5}},"y":{"field":"v","type":"quantitative","scale":{"domain":[0,400],"nice":false,"zero":false},"axis":{"title":"Uptake (cm³/g, STP)","values":[0,100,200,300,400],"labelFontSize":17,"titleFontSize":17,"tickSize":4,"labelPadding":2,"titlePadding":4,"domainWidth":1.5,"tickWidth":1.5}}}},
   {"data":{"name":"d_des"},"mark":{"type":"point","shape":"circle","filled":true,"fill":"#ffffff","stroke":"#e83a30","strokeWidth":1.1,"size":46,"opacity":1},"encoding":{"x":{"field":"p","type":"quantitative","scale":{"domain":[-0.025,1.005],"nice":false,"zero":false}},"y":{"field":"v","type":"quantitative","scale":{"domain":[0,400],"nice":false,"zero":false}}}},
   {"data":{"name":"d_ads"},"mark":{"type":"line","color":"#000000","strokeWidth":1},"encoding":{"x":{"field":"p","type":"quantitative","scale":{"domain":[-0.025,1.005],"nice":false,"zero":false}},"y":{"field":"v","type":"quantitative","scale":{"domain":[0,400],"nice":false,"zero":false}}}},
   {"data":{"name":"d_ads"},"mark":{"type":"point","shape":"circle","filled":true,"fill":"#e02020","stroke":"#5a0a0a","strokeWidth":0.7,"size":52,"opacity":1},"encoding":{"x":{"field":"p","type":"quantitative","scale":{"domain":[-0.025,1.005],"nice":false,"zero":false}},"y":{"field":"v","type":"quantitative","scale":{"domain":[0,400],"nice":false,"zero":false}}}},
   {"data":{"values":[{}]},"mark":{"type":"text","text":"P6","fontWeight":"bold","fontSize":23,"align":"left","baseline":"alphabetic","color":"#000"},"encoding":{"x":{"datum":0.018,"type":"quantitative","scale":{"domain":[-0.025,1.005],"nice":false,"zero":false}},"y":{"datum":345,"type":"quantitative","scale":{"domain":[0,400],"nice":false,"zero":false}}}},
   {"data":{"values":[{}]},"mark":{"type":"text","text":"Fe","fontWeight":"bold","fontSize":16,"align":"left","baseline":"alphabetic","dx":29,"dy":7,"color":"#000"},"encoding":{"x":{"datum":0.018,"type":"quantitative","scale":{"domain":[-0.025,1.005],"nice":false,"zero":false}},"y":{"datum":345,"type":"quantitative","scale":{"domain":[0,400],"nice":false,"zero":false}}}},
   {"data":{"values":[{}]},"mark":{"type":"text","text":"d)","font":"Open Sans","fontSize":23,"align":"left","baseline":"alphabetic","color":"#000"},"encoding":{"x":{"datum":-0.48,"type":"quantitative","scale":{"domain":[-0.025,1.005],"nice":false,"zero":false}},"y":{"datum":372,"type":"quantitative","scale":{"domain":[0,400],"nice":false,"zero":false}}}}
  ]},
  {"data":{"values":[{}]},"mark":{"type":"point","opacity":0},"encoding":{"x":{"datum":0.5,"type":"quantitative","scale":{"domain":[-0.025,1.005],"nice":false,"zero":false},"axis":{"orient":"bottom","values":[0.1,0.3,0.5,0.7,0.9],"labels":false,"domain":false,"title":null,"tickSize":2.5,"tickWidth":1.2}},"y":{"datum":200,"type":"quantitative","scale":{"domain":[0,400],"nice":false,"zero":false},"axis":{"orient":"left","values":[50,150,250,350],"labels":false,"domain":false,"title":null,"tickSize":2.5,"tickWidth":1.2}}}},
  {"layer":[
   {"data":{"name":"d_psd"},"mark":{"type":"line","color":"#b01515","strokeWidth":0.8},"encoding":{"x":{"field":"w","type":"quantitative","scale":{"domain":[0,50],"range":[93,175],"nice":false,"zero":false},"axis":{"orient":"bottom","offset":-24,"title":"Pore Width (Å)","values":[0,10,20,30,40,50],"labelFontSize":9,"titleFontSize":9,"tickSize":3,"labelPadding":1,"titlePadding":1,"domainWidth":1,"tickWidth":1,"labelColor":"#333","titleColor":"#333","domainColor":"#222","tickColor":"#222"}},"y":{"field":"d","type":"quantitative","scale":{"domain":[-0.0004,0.05],"range":[190,106],"nice":false,"zero":false},"axis":{"orient":"left","offset":-93,"title":"dV/dW (cm³/g·Å)","values":[0,0.01,0.02,0.03,0.04,0.05],"format":".2f","labelFontSize":9,"titleFontSize":9,"tickSize":3,"labelPadding":1,"titlePadding":2,"domainWidth":1,"tickWidth":1,"labelColor":"#333","titleColor":"#333","domainColor":"#222","tickColor":"#222"}}}},
   {"data":{"name":"d_psd"},"mark":{"type":"point","shape":"cross","filled":true,"color":"#b01515","size":16,"opacity":1},"encoding":{"x":{"field":"w","type":"quantitative","scale":{"domain":[0,50],"range":[93,175],"nice":false,"zero":false}},"y":{"field":"d","type":"quantitative","scale":{"domain":[-0.0004,0.05],"range":[190,106],"nice":false,"zero":false}}}}
  ]},
  {"layer":[
   {"data":{"name":"d_cum"},"mark":{"type":"line","color":"#e8961e","strokeWidth":0.8},"encoding":{"x":{"field":"w","type":"quantitative","scale":{"domain":[0,50],"range":[93,175],"nice":false,"zero":false},"axis":{"orient":"top","offset":-106,"labels":false,"ticks":false,"title":null,"domainColor":"#888","domainWidth":1}},"y":{"field":"c","type":"quantitative","scale":{"domain":[-0.003,0.4],"range":[190,106],"nice":false,"zero":false},"axis":{"orient":"right","offset":-31,"title":"Cumulative P.V. (cm³/g)","values":[0,0.1,0.2,0.3,0.4],"format":".1f","labelFontSize":9,"titleFontSize":9,"tickSize":3,"labelPadding":1,"titlePadding":2,"domainWidth":1,"tickWidth":1,"labelColor":"#f5a623","titleColor":"#f5a623","domainColor":"#f5a623","tickColor":"#f5a623"}}}},
   {"data":{"name":"d_cum"},"mark":{"type":"point","shape":"diamond","filled":true,"color":"#c87810","size":11,"opacity":1},"encoding":{"x":{"field":"w","type":"quantitative","scale":{"domain":[0,50],"range":[93,175],"nice":false,"zero":false}},"y":{"field":"c","type":"quantitative","scale":{"domain":[-0.003,0.4],"range":[190,106],"nice":false,"zero":false}}}}
  ]}
 ]}
]
}
